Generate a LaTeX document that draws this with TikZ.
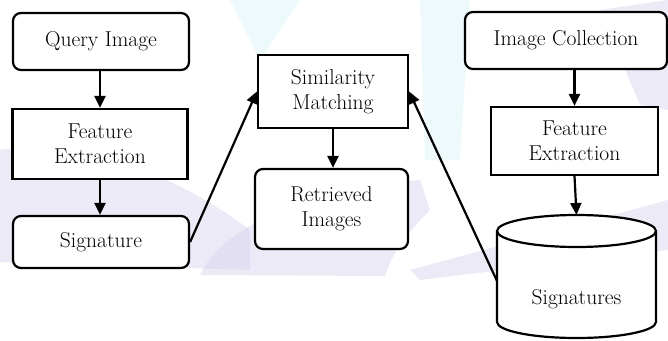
\documentclass[tikz,border=0pt]{standalone}
\usetikzlibrary{arrows.meta}
\definecolor{lav}{RGB}{214,210,238}
\definecolor{lcyan}{RGB}{222,244,248}
\tikzset{
  box/.style={draw=black, line width=2.2pt, fill=white, align=center, inner sep=0pt,
    font=\fontsize{21.5}{25}\selectfont},
  rbox/.style={box, rounded corners=8pt},
  arr/.style={line width=2.2pt, -{Triangle[length=12pt,width=11pt]}},
  wm/.style={fill=lav, opacity=0.45},
  wc/.style={fill=lcyan, opacity=0.5}
}
\begin{document}
\begin{tikzpicture}[x=1pt,y=-1pt]
\useasboundingbox (0,0) rectangle (668,340);
\fill[white] (0,0) rectangle (668,340);
% faint background decoration
\fill[wm] (0,150) .. controls (80,140) and (170,170) .. (250,230) -- (250,270) -- (0,262) -- cycle;
\fill[wm] (200,275) .. controls (220,230) and (300,190) .. (420,180) -- (430,210) .. controls (400,240) and (390,260) .. (385,276) -- cycle;
\fill[wm] (410,270) -- (668,200) -- (668,250) -- (420,280) -- cycle;
\fill[wm] (600,10) -- (668,0) -- (668,110) -- (640,105) -- cycle;
\fill[wc] (420,0) -- (470,0) -- (460,160) -- (425,160) -- cycle;
\fill[wc] (230,0) -- (300,0) -- (260,60) -- cycle;
% nodes
\node[rbox, minimum width=176pt, minimum height=57pt] (q) at (101,41.5) {Query Image};
\node[box, minimum width=175pt, minimum height=70pt] (fe1) at (100,144) {Feature\\Extraction};
\node[rbox, minimum width=176pt, minimum height=52pt] (sig) at (101,242) {Signature};
\node[box, minimum width=150pt, minimum height=73pt] (sim) at (333,91.5) {Similarity\\Matching};
\node[rbox, minimum width=153pt, minimum height=80pt] (ret) at (331.5,209) {Retrieved\\Images};
\node[rbox, minimum width=202pt, minimum height=57pt] (ic) at (566,40.5) {Image Collection};
\node[box, minimum width=167pt, minimum height=68pt] (fe2) at (574.5,141) {Feature\\Extraction};
% cylinder
\draw[line width=2.2pt, fill=white] (497,231) -- (497,322) arc[start angle=180, end angle=360, x radius=79.5pt, y radius=16pt] -- (656,231) arc[start angle=0, end angle=180, x radius=79.5pt, y radius=16pt] -- cycle;
\draw[line width=2.2pt] (497,231) arc[start angle=180, end angle=360, x radius=79.5pt, y radius=16pt];
\node[font=\fontsize{21.5}{25}\selectfont, inner sep=0pt] (sigs) at (576.5,299) {Signatures};
\coordinate (sigstop) at (576.5,215);
\coordinate (sigsleft) at (497,281);
% connectors
\draw[arr] (q.south -| fe1.north) -- (fe1.north);
\draw[arr] (fe1.south) -- (fe1.south |- sig.north);
\draw[arr] (sig.east) -- (sim.west);
\draw[arr] (sim.south) -- (sim.south |- ret.north);
\draw[arr] (sigsleft) -- (sim.east);
\draw[arr] (ic.south -| fe2.north) -- (fe2.north);
\draw[arr] (fe2.south) -- (sigstop);
\end{tikzpicture}
\end{document}
